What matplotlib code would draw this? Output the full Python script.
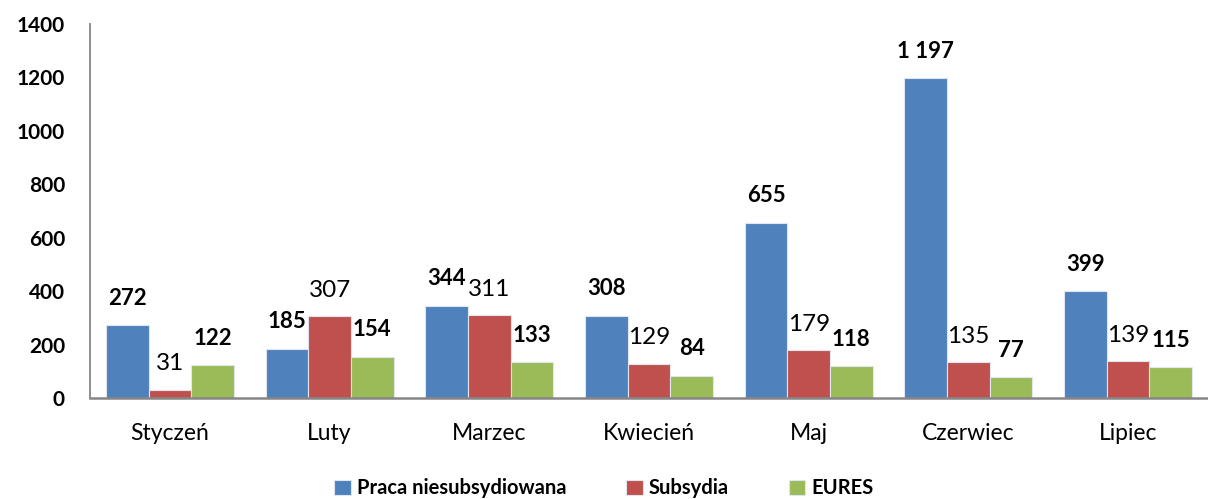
import numpy as np
import matplotlib
matplotlib.use("Agg")
import matplotlib.pyplot as plt

plt.rcParams['font.family'] = ['Lato', 'DejaVu Sans']

months = ["Styczeń", "Luty", "Marzec", "Kwiecień", "Maj", "Czerwiec", "Lipiec"]
praca = [272, 185, 344, 308, 655, 1197, 399]
subsydia = [31, 307, 311, 129, 179, 135, 139]
eures = [122, 154, 133, 84, 118, 77, 115]
series_names = ["Praca niesubsydiowana", "Subsydia", "EURES"]
colors = ["#4F81BD", "#C0504D", "#9BBB59"]
bold_labels = [True, False, True]


def fmt(v):
    return f"{v:,}".replace(",", " ")


fig = plt.figure(figsize=(12.08, 4.99), dpi=100)
ax = fig.add_axes([0.0745, 0.2024, 0.9255, 0.7496])

x = np.arange(len(months))
w = 0.267
for i, (vals, name, c, b) in enumerate(zip([praca, subsydia, eures], series_names, colors, bold_labels)):
    pos = x + (i - 1) * w
    ax.bar(pos, vals, width=w, color=c, edgecolor="#dfe6f0", linewidth=0.8, label=name)
    for px, v in zip(pos, vals):
        ax.annotate(fmt(v), (px, v), xytext=(0, 12 if b else 11), textcoords="offset points",
                    ha="center", va="bottom", fontsize=16 if b else 17.5,
                    fontweight="bold" if b else "normal", color="black")

ax.set_xlim(-0.5, len(months) - 0.5)
ax.set_ylim(0, 1400)
ax.set_yticks(range(0, 1401, 200))
ax.set_xticks(x)
ax.set_xticklabels(months, fontsize=16.5)
for t in ax.get_yticklabels():
    t.set_fontweight("bold")
    t.set_fontsize(15)
ax.tick_params(axis="both", length=0)
ax.tick_params(axis="x", pad=18)
ax.tick_params(axis="y", pad=18)
for s in ["top", "right"]:
    ax.spines[s].set_visible(False)
ax.spines["left"].set_color("#868686")
ax.spines["bottom"].set_color("#868686")
ax.spines["bottom"].set_linewidth(1.8)
ax.spines["left"].set_linewidth(1.3)

leg = fig.legend(loc="lower center", bbox_to_anchor=(0.5, -0.035), ncol=3, frameon=False,
                 prop={"weight": "bold", "size": 14.5}, handlelength=0.8, handleheight=0.8,
                 handletextpad=0.3, columnspacing=3.0)

fig.savefig("out.png", dpi=100)
